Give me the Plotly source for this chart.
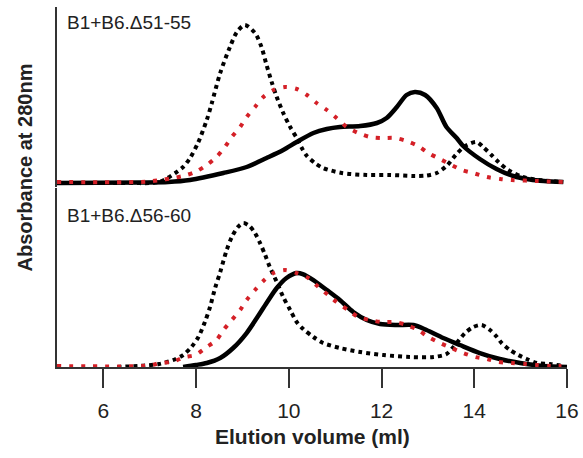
import plotly.graph_objects as go

# ---------------- data (elution volume in ml, absorbance in arbitrary units) ----------------
top_dot_x = [5.0, 6.5, 7.2, 7.55, 7.72, 7.87, 8.04, 8.23, 8.34, 8.52, 8.73, 8.88, 9.05, 9.27, 9.41, 9.52,
             9.63, 9.74, 9.88, 10.03, 10.17, 10.28, 10.39, 10.56, 10.74, 11.14, 11.68, 12.18, 12.72,
             12.97, 13.19, 13.4, 13.6, 13.8, 14.05, 14.19, 14.37, 14.52, 14.73, 15.05, 15.4, 15.92]
top_dot_y = [0, 0, 1, 10, 16, 25, 40, 63, 80, 110, 136, 151, 158, 150, 136, 118,
             101, 86, 70, 56, 45, 35, 27, 20, 15, 10, 8, 8, 7,
             7.5, 10, 17, 28, 37, 41, 36, 28, 21, 13, 6, 3, 1]

top_red_x = [5.0, 6.93, 7.22, 7.47, 7.72, 7.98, 8.23, 8.44, 8.62, 8.77, 8.95, 9.09, 9.27, 9.45, 9.67,
             9.92, 10.17, 10.39, 10.6, 10.82, 11.03, 11.25, 11.5, 11.75, 12.0, 12.29, 12.54, 12.79,
             13.01, 13.26, 13.51, 13.73, 13.97, 14.27, 14.56, 14.81, 15.35, 15.92]
top_red_y = [1, 1.3, 3, 4.7, 7, 11, 18, 26, 36, 46, 56, 66, 76, 86, 93,
             96, 94, 88, 80, 73, 65, 56, 50, 46, 45, 45, 42, 37,
             30, 24, 18, 13, 10, 6, 4, 3, 2, 1]

top_sol_x = [5.0, 6.8, 7.4, 7.87, 8.59, 9.09, 9.52, 9.88, 10.17, 10.53, 10.82, 11.1, 11.54, 11.9,
             12.11, 12.33, 12.54, 12.72, 12.94, 13.19, 13.4, 13.62, 13.76, 14.12, 14.48, 14.84,
             15.2, 15.5, 15.92]
top_sol_y = [0, 0.5, 1, 3, 10, 16, 25, 33, 41, 50, 54, 56, 57, 60,
             65, 76, 88, 91, 88, 75, 56, 45, 37, 24, 14, 7,
             3.5, 2, 1]

bot_dot_x = [6.3, 6.9, 7.2, 7.51, 7.72, 7.9, 8.05, 8.19, 8.3, 8.41, 8.52, 8.66, 8.77, 8.9, 9.02, 9.15,
             9.27, 9.38, 9.49, 9.59, 9.74, 9.88, 10.03, 10.17, 10.31, 10.53, 10.74, 11.1, 11.54,
             12.04, 12.61, 13.12, 13.4, 13.55, 13.8, 13.98, 14.16, 14.34, 14.49, 14.59, 14.77,
             14.95, 15.13, 15.35, 15.63, 15.92]
bot_dot_y = [0, 1.5, 3, 7, 12, 20, 30, 45, 60, 79, 95, 117, 130, 140, 144, 141,
             134, 124, 112, 100, 85, 70, 57, 45, 38, 30, 24, 19, 15,
             12, 10, 10, 13, 20, 34, 40, 42, 37, 30, 24, 17,
             12, 8, 4, 3, 1]

bot_red_x = [5.0, 7.0, 7.22, 7.47, 7.76, 7.98, 8.23, 8.44, 8.59, 8.77, 8.95, 9.09, 9.27, 9.45, 9.67,
             9.92, 10.17, 10.42, 10.64, 10.85, 11.03, 11.28, 11.5, 11.75, 12.0, 12.29, 12.54, 12.79,
             13.01, 13.26, 13.51, 13.76, 14.02, 14.27, 14.52, 14.81, 15.1, 15.35, 15.63, 15.88]
bot_red_y = [1, 1.5, 4, 5, 10, 12, 20, 27, 37, 47, 57, 67, 77, 86, 94,
             97, 94, 89, 80, 72, 65, 57, 50, 47, 45, 45, 42, 37,
             30, 24, 19, 14, 10, 8, 5, 4, 3, 2, 1, 1]

bot_sol_x = [7.72, 8.0, 8.23, 8.52, 8.8, 9.09, 9.31, 9.52, 9.74, 9.95, 10.17, 10.3, 10.53, 10.82,
             11.1, 11.39, 11.68, 11.97, 12.33, 12.69, 12.97, 13.33, 13.69, 14.12, 14.55, 14.99,
             15.49, 16.0]
bot_sol_y = [0, 2, 4, 9, 19, 34, 49, 64, 79, 89, 94, 93, 87, 77,
             67, 55, 47, 43, 42, 42, 37, 29, 22, 14, 8, 4,
             1, 0]

x_ticks = [6, 8, 10, 12, 14, 16]
panel_labels = ["B1+B6.\u039451-55", "B1+B6.\u039456-60"]

RED = "#d42027"
BLACK = "#000000"
FONT = "Liberation Sans, Arial, sans-serif"

fig = go.Figure()

def add_panel(series, xa, ya):
    (sx, sy), (dx, dy), (rx, ry) = series
    fig.add_trace(go.Scatter(x=sx, y=sy, mode="lines", xaxis=xa, yaxis=ya,
                             line=dict(color=BLACK, width=4.5, shape="spline", smoothing=0.8),
                             hoverinfo="skip"))
    fig.add_trace(go.Scatter(x=dx, y=dy, mode="lines", xaxis=xa, yaxis=ya,
                             line=dict(color=BLACK, width=4, dash="4px,4px", shape="spline", smoothing=0.8),
                             hoverinfo="skip"))
    fig.add_trace(go.Scatter(x=rx, y=ry, mode="lines", xaxis=xa, yaxis=ya,
                             line=dict(color=RED, width=4, dash="4px,8px", shape="spline", smoothing=0.8),
                             hoverinfo="skip"))

add_panel(((top_sol_x, top_sol_y), (top_dot_x, top_dot_y), (top_red_x, top_red_y)), "x2", "y2")
add_panel(((bot_sol_x, bot_sol_y), (bot_dot_x, bot_dot_y), (bot_red_x, bot_red_y)), "x", "y")

fig.update_layout(
    width=583, height=458,
    margin=dict(l=57, r=16, t=7, b=91),
    paper_bgcolor="white", plot_bgcolor="white",
    showlegend=False,
    font=dict(family=FONT, color="#222222", size=19),
    xaxis=dict(domain=[0, 1], range=[5, 16], anchor="y", tickvals=x_ticks,
               ticktext=[str(t) for t in x_ticks],
               showline=True, linecolor="#333333", linewidth=1.5,
               ticks="outside", ticklen=19, tickwidth=2, tickcolor="#333333",
               ticklabelstandoff=5, automargin=False,
               tickfont=dict(size=21, color="#222222", family=FONT),
               showgrid=False, zeroline=False),
    xaxis2=dict(domain=[0, 1], range=[5, 16], anchor="y2", matches="x",
                showticklabels=False, showline=False, ticks="", showgrid=False, zeroline=False),
    yaxis=dict(domain=[0, 0.497], range=[0, 179], anchor="x",
               showline=True, linecolor="#333333", linewidth=1.5,
               showticklabels=False, ticks="", showgrid=False, zeroline=False),
    yaxis2=dict(domain=[0.5, 1], range=[-4, 176], anchor="x2",
                showline=True, linecolor="#333333", linewidth=1.5,
                showticklabels=False, ticks="", showgrid=False, zeroline=False),
    annotations=[
        dict(text=panel_labels[0], xref="paper", yref="paper", x=0.0157, y=0.958,
             xanchor="left", yanchor="middle", showarrow=False,
             font=dict(size=19, color="#222222", family=FONT)),
        dict(text=panel_labels[1], xref="paper", yref="paper", x=0.0157, y=0.422,
             xanchor="left", yanchor="middle", showarrow=False,
             font=dict(size=19, color="#222222", family=FONT)),
        dict(text="<b>Elution volume (ml)</b>", xref="paper", yref="paper", x=0.5, y=-0.194,
             xanchor="center", yanchor="middle", showarrow=False,
             font=dict(size=21, color="#222222", family=FONT)),
        dict(text="<b>Absorbance at 280nm</b>", xref="paper", yref="paper", x=-0.063, y=0.554,
             xanchor="center", yanchor="middle", showarrow=False, textangle=-90,
             font=dict(size=20, color="#222222", family=FONT)),
    ],
)

fig.write_html("out.html", config={"displayModeBar": False},
               post_script="document.body.style.margin='0px';")
